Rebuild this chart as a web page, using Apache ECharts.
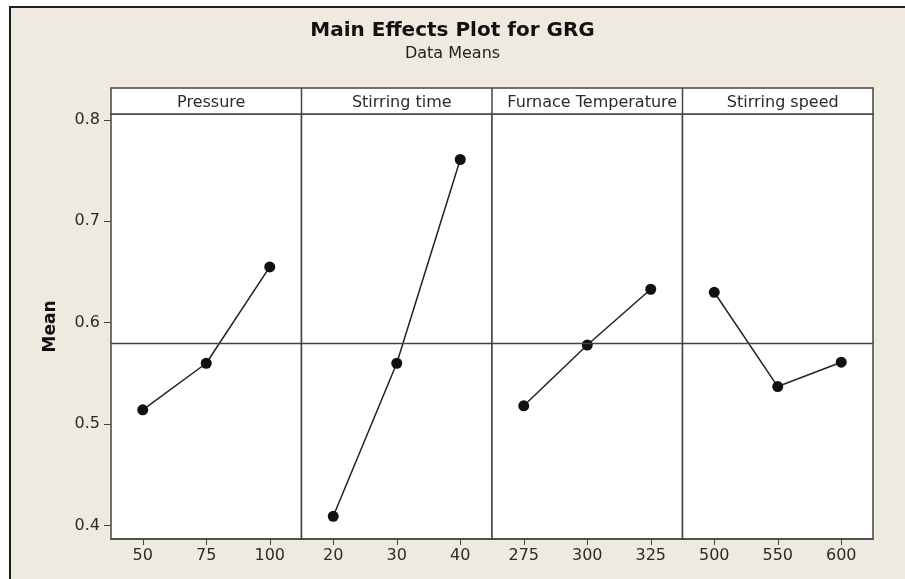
<!DOCTYPE html>
<html>
<head>
<meta charset="utf-8">
<script src="https://cdn.jsdelivr.net/npm/echarts@6/dist/echarts.min.js"></script>
<style>
  html, body { margin: 0; padding: 0; background: #fff; }
  #chart { width: 905px; height: 579px; }
</style>
</head>
<body>
<div id="chart"></div>
<script>
// data
const factors = ['Pressure', 'Stirring time', 'Furnace Temperature', 'Stirring speed']
const levels = [
  ['50', '75', '100'],
  ['20', '30', '40'],
  ['275', '300', '325'],
  ['500', '550', '600']
]
const pressureMeans = [0.514, 0.560, 0.655]
const stirTimeMeans = [0.409, 0.560, 0.761]
const furnaceMeans = [0.518, 0.578, 0.633]
const stirSpeedMeans = [0.630, 0.537, 0.561]
const yTicks = [0.4, 0.5, 0.6, 0.7, 0.8]

const allMeans = [pressureMeans, stirTimeMeans, furnaceMeans, stirSpeedMeans]
// grand mean = reference line
const flat = allMeans.flat()
const grandMean = flat.reduce((a, b) => a + b, 0) / flat.length

const chart = echarts.init(document.getElementById('chart'))

const FONT = 'DejaVu Sans'
const INK = '#2b2b2b'
const plotLeft = 111
const panelW = 190.5
const plotTop = 114
const plotBottom = 40

const grids = [], xAxes = [], yAxes = [], series = [], titles = []

titles.push({
  text: 'Main Effects Plot for GRG',
  subtext: 'Data Means',
  left: 'center',
  top: 16,
  itemGap: 5,
  textStyle: { fontFamily: FONT, fontSize: 20, fontWeight: 'bold', color: '#111' },
  subtextStyle: { fontFamily: FONT, fontSize: 16, color: '#222' }
})

factors.forEach((name, i) => {
  grids.push({
    left: plotLeft + i * panelW,
    width: panelW,
    top: plotTop,
    bottom: plotBottom,
    show: true,
    backgroundColor: '#fff',
    borderColor: '#444',
    borderWidth: 1.5
  })
  xAxes.push({
    type: 'category',
    gridIndex: i,
    data: levels[i],
    boundaryGap: true,
    axisLine: { show: true, lineStyle: { color: '#444', width: 1.5 } },
    axisTick: { show: true, alignWithLabel: true, length: 6, lineStyle: { color: '#444' } },
    axisLabel: { fontFamily: FONT, fontSize: 16, color: INK, margin: 9 }
  })
  yAxes.push({
    type: 'value',
    gridIndex: i,
    min: 0.3866,
    max: 0.8059,
    splitLine: { show: false },
    axisLine: { show: false },
    axisTick: i === 0
      ? { show: true, length: 7, customValues: yTicks, lineStyle: { color: '#444' } }
      : { show: false },
    axisLabel: i === 0
      ? { show: true, customValues: yTicks, fontFamily: FONT, fontSize: 16, color: INK, margin: 11,
          formatter: v => v.toFixed(1) }
      : { show: false },
    name: i === 0 ? 'Mean' : '',
    nameLocation: 'middle',
    nameGap: 52,
    nameRotate: 90,
    nameTextStyle: { fontFamily: FONT, fontSize: 17, fontWeight: 'bold', color: '#111' }
  })
  series.push({
    type: 'line',
    name: name,
    xAxisIndex: i,
    yAxisIndex: i,
    data: allMeans[i],
    symbol: 'circle',
    symbolSize: 11,
    itemStyle: { color: '#111' },
    lineStyle: { color: '#222', width: 1.5 },
    markLine: {
      silent: true,
      symbol: 'none',
      label: { show: false },
      lineStyle: { color: '#444', width: 1.3, type: 'solid' },
      data: [{ yAxis: grandMean }]
    },
    animation: false
  })
  titles.push({
    text: name,
    left: plotLeft + i * panelW + panelW / 2,
    top: 90,
    textAlign: 'center',
    textStyle: { fontFamily: FONT, fontSize: 16, fontWeight: 'normal', color: INK },
    z: 10
  })
})

const option = {
  backgroundColor: '#fff',
  animation: false,
  title: titles,
  grid: grids,
  xAxis: xAxes,
  yAxis: yAxes,
  series: series,
  graphic: [
    {
      type: 'rect',
      z: -10,
      shape: { x: 9, y: 6, width: 900, height: 580 },
      style: { fill: '#eeeae0' }
    },
    {
      type: 'polyline',
      z: -9,
      shape: { points: [[10, 580], [10, 7], [905, 7]] },
      style: { stroke: '#1e1e1e', lineWidth: 2, fill: null }
    },
    {
      // header strip above the panels
      type: 'rect',
      z: 5,
      shape: { x: plotLeft, y: 88, width: panelW * 4, height: plotTop - 88 },
      style: { fill: '#fff', stroke: '#444', lineWidth: 1.5 }
    },
    ...[1, 2, 3].map(k => ({
      type: 'line',
      z: 6,
      shape: { x1: plotLeft + k * panelW, y1: 88, x2: plotLeft + k * panelW, y2: plotTop },
      style: { stroke: '#444', lineWidth: 1.5 }
    }))
  ]
}

chart.setOption(option)
</script>
</body>
</html>
